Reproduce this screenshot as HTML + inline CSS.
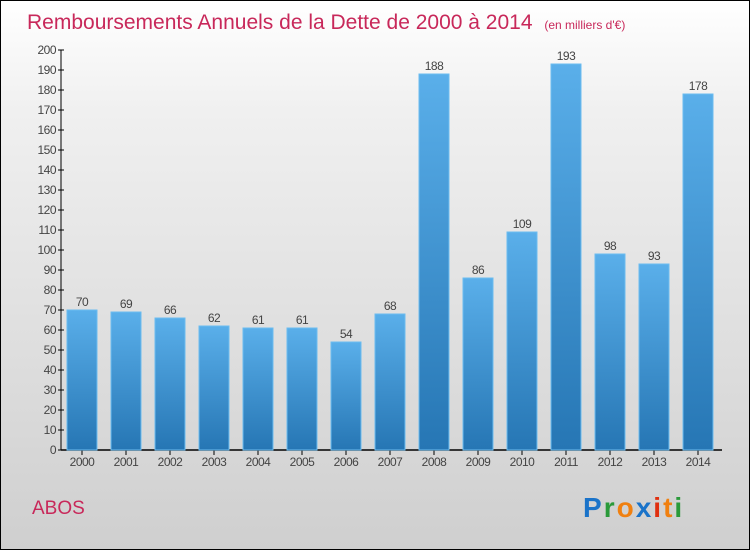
<!DOCTYPE html>
<html><head><meta charset="utf-8"><style>
body{margin:0;}
#c{width:750px;height:550px;position:relative;box-sizing:border-box;border:1px solid #000;background:linear-gradient(#ffffff,#f0f0f0 20%,#cfcfcf);font-family:"Liberation Sans",sans-serif;overflow:hidden;}
</style></head><body>
<div id="c">
<svg width="750" height="550" style="position:absolute;left:-1px;top:-1px">
<defs><linearGradient id="bg" x1="0" y1="0" x2="0" y2="1"><stop offset="0" stop-color="#5aafea"/><stop offset="1" stop-color="#2676b4"/></linearGradient></defs>
<text x="27" y="29" font-size="21" fill="#c8285a">Remboursements Annuels de la Dette de 2000 à 2014 <tspan font-size="12" dx="6">(en milliers d'€)</tspan></text>
<g id="ax"></g><g id="bars"></g>
<text x="32" y="514" font-size="19" fill="#c8285a">ABOS</text>
<g font-size="28" font-weight="bold" font-family="Liberation Sans,sans-serif" letter-spacing="2">
<text x="583" y="517"><tspan fill="#1a73c9">P</tspan><tspan fill="#2a9a3a">r</tspan><tspan fill="#f08010">o</tspan><tspan fill="#1a73c9">x</tspan><tspan fill="#e03010">i</tspan><tspan fill="#f08010">t</tspan><tspan fill="#2a9a3a">i</tspan></text></g>
</svg></div>
<script>
const years=["2000","2001","2002","2003","2004","2005","2006","2007","2008","2009","2010","2011","2012","2013","2014"];
const values=[70,69,66,62,61,61,54,68,188,86,109,193,98,93,178];
const ticks=[0,10,20,30,40,50,60,70,80,90,100,110,120,130,140,150,160,170,180,190,200];
const NS="http://www.w3.org/2000/svg";
const y=v=>450-v*2, x=i=>82+i*44;
function mk(t,a,p){const e=document.createElementNS(NS,t);for(const k in a)e.setAttribute(k,a[k]);p.appendChild(e);return e;}
const ax=document.getElementById('ax'),bars=document.getElementById('bars');
let l=mk('line',{x1:61,y1:50,x2:61,y2:450,stroke:'#000'},ax);


l=mk('line',{x1:61,y1:450,x2:722,y2:450,stroke:'#000','stroke-width':1.5},ax);


ticks.forEach(t=>{mk('line',{x1:58,x2:64,y1:y(t),y2:y(t),stroke:'#000'},ax);
const tx=mk('text',{x:56,y:y(t)+4,'font-size':12,fill:'#444','text-anchor':'end','letter-spacing':'-0.5'},ax);tx.textContent=t;

});
years.forEach((yr,i)=>{const v=values[i];
const r=mk('rect',{x:x(i)-15,y:y(v),width:30,height:v*2,fill:'url(#bg)',stroke:'#6bbcf0','stroke-width':1},bars);


mk('line',{x1:x(i),x2:x(i),y1:450,y2:455,stroke:'#000'},ax);
const t=mk('text',{x:x(i),y:466,'font-size':12,fill:'#444','text-anchor':'middle','letter-spacing':'-0.5'},ax);t.textContent=yr;


const vl=mk('text',{x:x(i),y:y(v)-4,'font-size':12,fill:'#444','text-anchor':'middle','letter-spacing':'-0.5'},bars);vl.textContent=v;

});
</script></body></html>
